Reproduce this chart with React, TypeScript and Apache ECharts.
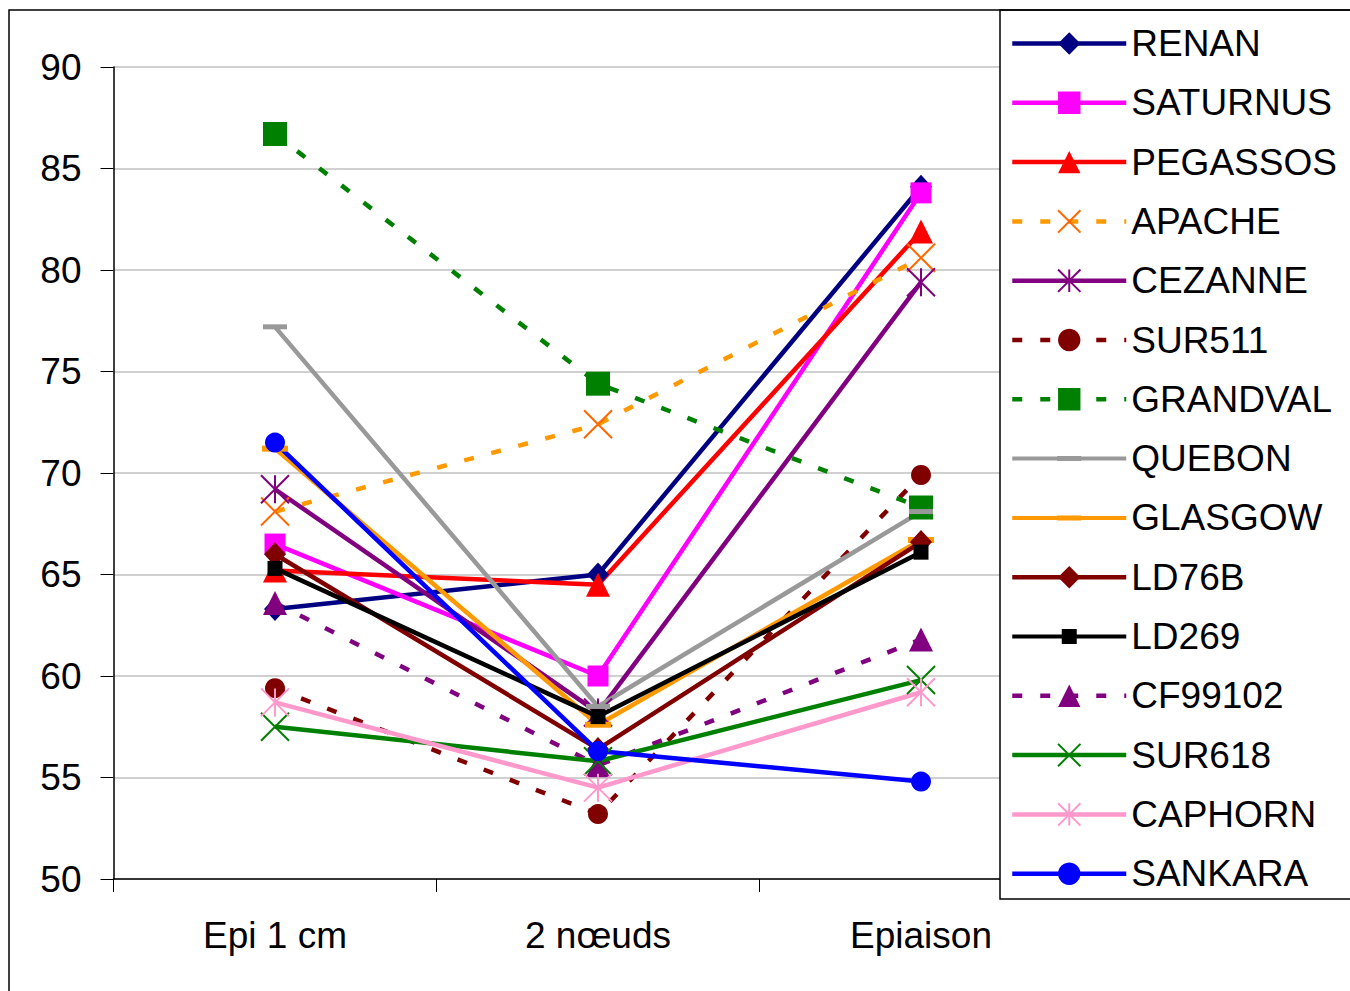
import React, { useEffect, useRef } from 'react';
import * as echarts from 'echarts';

const categories = ['Epi 1 cm', '2 nœuds', 'Epiaison'];
const yMin = 50;
const yMax = 90;
const yStep = 5;

const RENAN = [63.3, 65.0, 84.1];
const SATURNUS = [66.5, 60.0, 83.8];
const PEGASSOS = [65.2, 64.5, 81.9];
const APACHE = [68.1, 72.4, 80.6];
const CEZANNE = [69.2, 58.2, 79.4];
const SUR511 = [59.4, 53.2, 69.9];
const GRANDVAL = [86.7, 74.4, 68.3];
const QUEBON = [77.2, 58.5, 68.1];
const GLASGOW = [71.2, 57.6, 66.7];
const LD76B = [66.0, 56.4, 66.6];
const LD269 = [65.3, 58.0, 66.1];
const CF99102 = [63.6, 55.6, 61.8];
const SUR618 = [57.5, 55.8, 59.8];
const CAPHORN = [58.7, 54.5, 59.2];
const SANKARA = [71.5, 56.3, 54.8];

const X_PATH = 'path://M0,0L10,10M10,0L0,10';
const STAR_PATH = 'path://M0,0L10,10M10,0L0,10M5,0L5,10';
const DASH_PATH = 'path://M0,0L24,0L24,5L0,5Z';
// legend icons: full line with a centred marker
const DASH_ICON = 'path://M0,0.5H114V4.5H0Z M45,0H69V5H45Z';
const SMALLSQ_ICON = 'path://M0,5.5H114V9.5H0Z M49.5,0H64.5V15H49.5Z';

type Sty = {
  name: string;
  data: number[];
  line: string;
  mark: string;
  dashed: boolean;
  symbol: string;
  size: number | number[];
  stroke?: boolean;
  icon?: string;
};

const seriesStyles: Sty[] = [
  { name: 'RENAN', data: RENAN, line: '#000080', mark: '#000080', dashed: false, symbol: 'diamond', size: [22, 24] },
  { name: 'SATURNUS', data: SATURNUS, line: '#FF00FF', mark: '#FF00FF', dashed: false, symbol: 'rect', size: 21 },
  { name: 'PEGASSOS', data: PEGASSOS, line: '#FF0000', mark: '#FF0000', dashed: false, symbol: 'triangle', size: 24 },
  { name: 'APACHE', data: APACHE, line: '#FF9900', mark: '#FF6600', dashed: true, symbol: X_PATH, size: 28, stroke: true },
  { name: 'CEZANNE', data: CEZANNE, line: '#800080', mark: '#800080', dashed: false, symbol: STAR_PATH, size: 28, stroke: true },
  { name: 'SUR511', data: SUR511, line: '#800000', mark: '#800000', dashed: true, symbol: 'circle', size: 20 },
  { name: 'GRANDVAL', data: GRANDVAL, line: '#008000', mark: '#008000', dashed: true, symbol: 'rect', size: 24 },
  { name: 'QUEBON', data: QUEBON, line: '#999999', mark: '#999999', dashed: false, symbol: DASH_PATH, size: [24, 5], icon: DASH_ICON },
  { name: 'GLASGOW', data: GLASGOW, line: '#FF9900', mark: '#FF9900', dashed: false, symbol: DASH_PATH, size: [26, 6], icon: DASH_ICON },
  { name: 'LD76B', data: LD76B, line: '#800000', mark: '#800000', dashed: false, symbol: 'diamond', size: [22, 24] },
  { name: 'LD269', data: LD269, line: '#000000', mark: '#000000', dashed: false, symbol: 'rect', size: 15, icon: SMALLSQ_ICON },
  { name: 'CF99102', data: CF99102, line: '#800080', mark: '#800080', dashed: true, symbol: 'triangle', size: 24 },
  { name: 'SUR618', data: SUR618, line: '#008000', mark: '#008000', dashed: false, symbol: X_PATH, size: 28, stroke: true },
  { name: 'CAPHORN', data: CAPHORN, line: '#FF99CC', mark: '#FF99CC', dashed: false, symbol: STAR_PATH, size: 28, stroke: true },
  { name: 'SANKARA', data: SANKARA, line: '#0000FF', mark: '#0000FF', dashed: false, symbol: 'circle', size: 20 },
];

const FONT = '"Liberation Sans", Arial, sans-serif';

export default function App() {
  const ref = useRef<HTMLDivElement>(null);
  useEffect(() => {
    if (!ref.current) return;
    const chart = echarts.init(ref.current, undefined, { renderer: 'svg' });
    const series = seriesStyles.map((s) => ({
      name: s.name,
      type: 'line',
      data: s.data,
      symbol: s.symbol,
      symbolSize: s.size,
      showAllSymbol: true,
      lineStyle: { color: s.line, width: 4.5, type: s.dashed ? [10, 18] : 'solid' },
      itemStyle: s.stroke
        ? { color: s.mark, borderColor: s.mark, borderWidth: 2 }
        : { color: s.mark, borderColor: s.mark, borderWidth: 0 },
      emphasis: { disabled: true },
      z: 2,
    }));
    chart.setOption({
      animation: false,
      backgroundColor: '#ffffff',
      textStyle: { fontFamily: FONT },
      grid: { left: 113.5, top: 67, right: 267.5, bottom: 112, containLabel: false, outerBoundsMode: 'none' },
      xAxis: {
        type: 'category',
        data: categories,
        boundaryGap: true,
        axisLine: { lineStyle: { color: '#000000', width: 1.5 } },
        axisTick: { show: true, length: 13, lineStyle: { color: '#000000', width: 1 } },
        axisLabel: { fontSize: 37, color: '#000000', margin: 38, fontFamily: FONT },
        splitLine: { show: false },
      },
      yAxis: {
        type: 'value',
        min: yMin,
        max: yMax,
        interval: yStep,
        axisLine: { show: true, lineStyle: { color: '#000000', width: 1.5 } },
        axisTick: { show: true, length: 13, lineStyle: { color: '#000000', width: 1 } },
        axisLabel: { fontSize: 37, color: '#000000', margin: 32, fontFamily: FONT },
        splitLine: { show: true, lineStyle: { color: '#C0C0C0', width: 1.5 } },
      },
      legend: {
        show: true,
        orient: 'vertical',
        left: 1010,
        top: 25,
        padding: 0,
        itemWidth: 114,
        itemHeight: 28,
        itemGap: 22.3,
        z: 200,
        selectedMode: false,
        symbolKeepAspect: true,
        textStyle: { fontSize: 37, color: '#000000', fontFamily: FONT, lineHeight: 36 },
        itemStyle: { borderWidth: 'inherit' },
        lineStyle: { width: 'inherit' },
        data: seriesStyles.map((s) => (s.icon ? { name: s.name, icon: s.icon } : { name: s.name })),
      },
      graphic: {
        elements: [
          {
            type: 'rect',
            z: 100,
            shape: { x: 1000, y: 10, width: 400, height: 889 },
            style: { fill: '#ffffff', stroke: '#000000', lineWidth: 1.5 },
            silent: true,
          },
          {
            type: 'rect',
            z: 150,
            shape: { x: 9, y: 10, width: 1400, height: 1000 },
            style: { fill: 'none', stroke: '#000000', lineWidth: 1.5 },
            silent: true,
          },
        ],
      },
      series,
    });
    return () => chart.dispose();
  }, []);
  return (
    <div
      ref={ref}
      style={{ position: 'fixed', left: 0, top: 0, width: 1350, height: 991, background: '#fff' }}
    />
  );
}
